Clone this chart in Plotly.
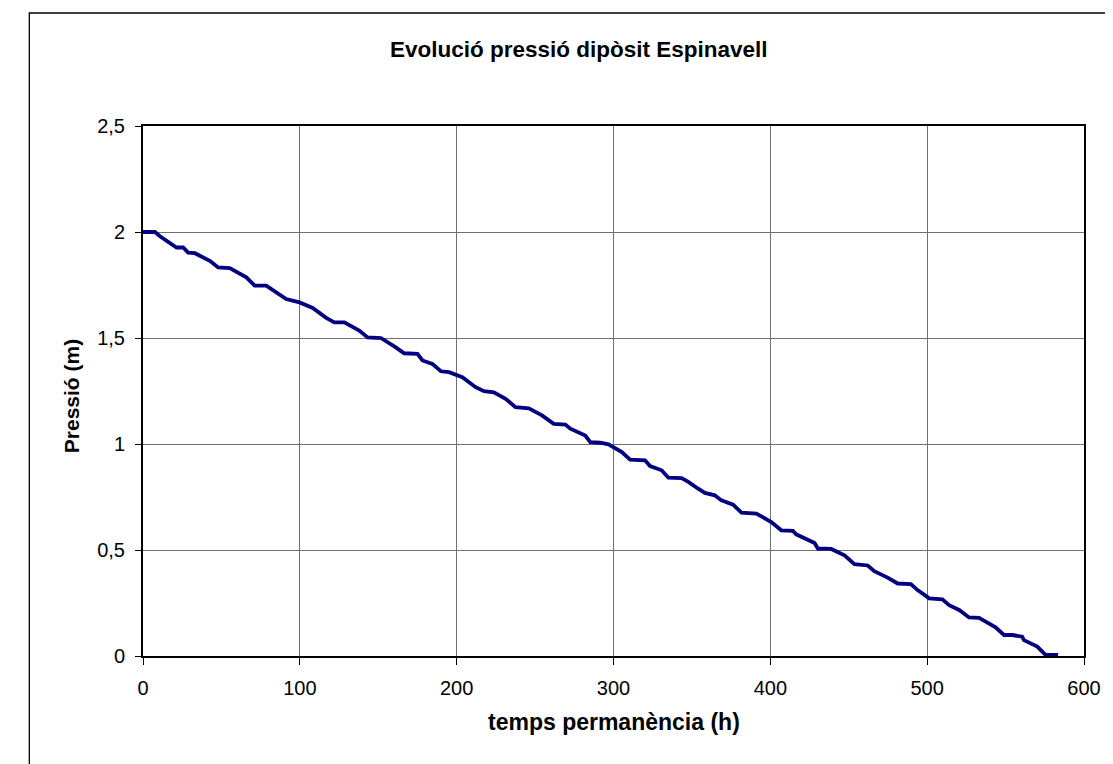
import plotly.graph_objects as go

# Data
hours = [0, 7.6, 10.8, 21.4, 25.6, 28.8, 33.1, 42.6, 47.9, 55.3, 65.9, 71.2, 78.6, 91.3, 99.8,
         108.2, 116.8, 122, 128.4, 137.9, 143.2, 151.7, 161.2, 166.5, 175, 178.2, 184.5, 189.9,
         195.1, 203.6, 212.1, 217.4, 223.7, 231.2, 237.5, 246, 254.4, 261.9, 269.3, 272.5, 282,
         285.2, 291.5, 296.8, 305.3, 310.6, 320.1, 323.3, 330.7, 335, 343.4, 347.7, 354, 358.3,
         364.6, 368.8, 376.3, 381.6, 391.1, 400.6, 407, 414.4, 416.5, 428.2, 430.3, 438.8, 447.3,
         453.6, 462.1, 466.3, 474.8, 481.2, 489.6, 493.9, 501.3, 509.7, 514, 520.4, 526.7, 533.1,
         537.3, 543.6, 549, 554.3, 560.6, 561.7, 570.2, 575.5, 583.5]
pressure = [2.0, 2.0, 1.98, 1.927, 1.927, 1.903, 1.90, 1.864, 1.833, 1.83, 1.786, 1.747, 1.747,
            1.684, 1.668, 1.642, 1.595, 1.574, 1.574, 1.535, 1.503, 1.50, 1.456, 1.428, 1.425,
            1.394, 1.378, 1.343, 1.339, 1.315, 1.268, 1.249, 1.244, 1.213, 1.174, 1.168, 1.135,
            1.095, 1.092, 1.072, 1.040, 1.009, 1.006, 0.998, 0.962, 0.926, 0.923, 0.896, 0.876,
            0.841, 0.839, 0.821, 0.789, 0.769, 0.758, 0.734, 0.714, 0.676, 0.672, 0.632, 0.593,
            0.590, 0.574, 0.533, 0.507, 0.505, 0.475, 0.433, 0.427, 0.400, 0.370, 0.342, 0.339,
            0.311, 0.272, 0.267, 0.240, 0.217, 0.182, 0.180, 0.162, 0.135, 0.099, 0.099, 0.091,
            0.075, 0.044, 0.005, 0.005]

x_tickvals = [0, 100, 200, 300, 400, 500, 600]
x_ticktext = ["0", "100", "200", "300", "400", "500", "600"]
y_tickvals = [0, 0.5, 1, 1.5, 2, 2.5]
y_ticktext = ["0", "0,5", "1", "1,5", "2", "2,5"]

title_text = "Evolució pressió dipòsit Espinavell"
x_title = "temps permanència (h)"
y_title = "Pressió (m)"

FONT = "Liberation Sans, Arial, sans-serif"

fig = go.Figure()
fig.add_trace(go.Scatter(x=hours, y=pressure, mode="lines",
                         line=dict(color="#000080", width=3.8), showlegend=False,
                         hoverinfo="x+y"))

fig.update_layout(
    width=1105, height=756,
    margin=dict(l=135, r=26, t=118, b=108),
    paper_bgcolor="white", plot_bgcolor="white",
    font=dict(family=FONT, color="black", size=20),
    showlegend=False,
    xaxis=dict(range=[0, 600], tickvals=x_tickvals, ticktext=x_ticktext,
               showgrid=True, gridcolor="#707070", gridwidth=1,
               showline=True, linecolor="black", linewidth=2, mirror=True,
               ticks="outside", ticklen=7, tickcolor="black", tickwidth=1,
               ticklabelstandoff=6,
               zeroline=False, tickfont=dict(size=20, family=FONT)),
    yaxis=dict(range=[0, 2.5], tickvals=y_tickvals, ticktext=y_ticktext,
               showgrid=True, gridcolor="#707070", gridwidth=1,
               showline=True, linecolor="black", linewidth=2, mirror=True,
               ticks="outside", ticklen=6, tickcolor="black", tickwidth=1,
               ticklabelstandoff=6,
               zeroline=False, tickfont=dict(size=20, family=FONT)),
    shapes=[dict(type="rect", xref="paper", yref="paper",
                 x0=-0.1208, x1=1.0466, y0=-0.35, y1=1.2132,
                 line=dict(color="black", width=1.3), fillcolor="rgba(0,0,0,0)", layer="below")],
    annotations=[
        dict(text="<b>" + title_text + "</b>", xref="paper", yref="paper",
             x=0.463, y=1.1434, xanchor="center", yanchor="middle", showarrow=False,
             font=dict(size=22.5, family=FONT)),
        dict(text="<b>" + x_title + "</b>", xref="paper", yref="paper",
             x=0.5, y=-0.125, xanchor="center", yanchor="middle", showarrow=False,
             font=dict(size=23, family=FONT)),
        dict(text="<b>" + y_title + "</b>", xref="paper", yref="paper",
             x=-0.0752, y=0.4906, xanchor="center", yanchor="middle", showarrow=False,
             textangle=-90, font=dict(size=21, family=FONT)),
    ],
)

fig.write_html("out.html")
